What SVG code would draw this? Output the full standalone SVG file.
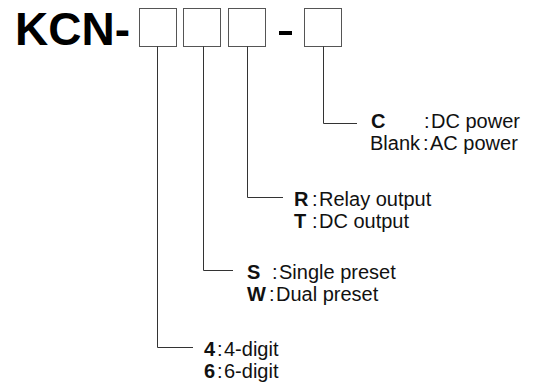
<svg xmlns="http://www.w3.org/2000/svg" width="542" height="387" viewBox="0 0 542 387">
<style>
.box{fill:#fff;stroke:#555;stroke-width:1}
.ln{fill:none;stroke:#333;stroke-width:1}
.t{font-family:"Liberation Sans",Arial,sans-serif;font-size:20px;fill:#111}
.b{font-weight:bold}
.title{font-family:"Liberation Sans",Arial,sans-serif;font-size:46px;font-weight:bold;fill:#000}
</style>
<rect width="542" height="387" fill="#fff"/>
<g id="title">
<text class="title" x="15" y="45">KCN-</text>
<rect x="279" y="31" width="13" height="4" fill="#000"/>
</g>
<g id="box1"><rect class="box" x="139.5" y="8.5" width="37" height="38"/></g>
<g id="box2"><rect class="box" x="183.5" y="8.5" width="37" height="38"/></g>
<g id="box3"><rect class="box" x="228.5" y="8.5" width="37" height="38"/></g>
<g id="box4"><rect class="box" x="304.5" y="8.5" width="37" height="38"/></g>
<g id="connectors">
<path class="ln" d="M323.5 46.5V123.5H357"/>
<path class="ln" d="M247.5 46.5V197.5H283"/>
<path class="ln" d="M203.5 46.5V270.5H233"/>
<path class="ln" d="M157.5 46.5V347.5H193"/>
</g>
<g id="power">
<text class="t" y="128"><tspan class="b" x="371">C</tspan><tspan x="424">:</tspan><tspan x="431">DC power</tspan></text>
<text class="t" y="150"><tspan x="370">Blank</tspan><tspan x="423">:</tspan><tspan x="430">AC power</tspan></text>
</g>
<g id="output">
<text class="t" y="206"><tspan class="b" x="294">R</tspan><tspan x="312">:</tspan><tspan x="319">Relay output</tspan></text>
<text class="t" y="228"><tspan class="b" x="294">T</tspan><tspan x="312">:</tspan><tspan x="319">DC output</tspan></text>
</g>
<g id="preset">
<text class="t" y="279"><tspan class="b" x="247">S</tspan><tspan x="272">:</tspan><tspan x="279">Single preset</tspan></text>
<text class="t" y="301"><tspan class="b" x="247">W</tspan><tspan x="269">:</tspan><tspan x="276">Dual preset</tspan></text>
</g>
<g id="digits">
<text class="t" y="356"><tspan class="b" x="204">4</tspan><tspan x="217">:</tspan><tspan x="224">4-digit</tspan></text>
<text class="t" y="378"><tspan class="b" x="204">6</tspan><tspan x="217">:</tspan><tspan x="224">6-digit</tspan></text>
</g>
</svg>
